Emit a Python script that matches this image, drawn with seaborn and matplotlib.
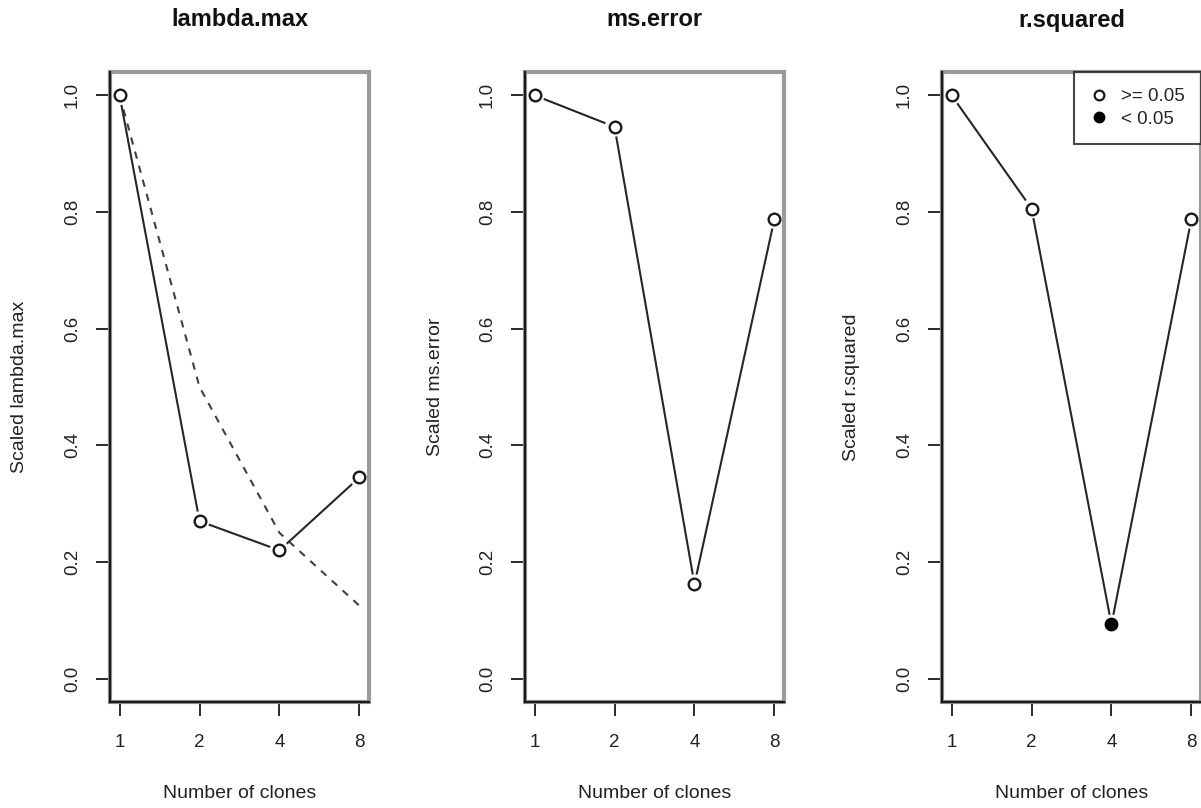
import numpy as np
import pandas as pd
import matplotlib
matplotlib.use("Agg")
import matplotlib.pyplot as plt
from matplotlib.patches import Rectangle
from matplotlib.lines import Line2D
import seaborn as sns

# Number of clones (x axis) and scaled diagnostics per panel
clones = [1, 2, 4, 8]
lambda_max = [1.0, 0.27, 0.22, 0.345]
ms_error = [1.0, 0.946, 0.162, 0.788]
r_squared = [1.0, 0.806, 0.093, 0.788]
# expected decline 1/k for lambda.max
lambda_ref = [1.0, 0.5, 0.25, 0.125]
# significance of each point (p < 0.05)
sig_lambda = [False, False, False, False]
sig_mse = [False, False, False, False]
sig_r2 = [False, False, True, False]

panel_titles = ["lambda.max", "ms.error", "r.squared"]
y_labels = ["Scaled lambda.max", "Scaled ms.error", "Scaled r.squared"]
x_label = "Number of clones"
x_ticklabels = ["1", "2", "4", "8"]
y_ticks = [0.0, 0.2, 0.4, 0.6, 0.8, 1.0]
legend_labels = [">= 0.05", "< 0.05"]

sns.set_theme(style="white")
plt.rcParams["font.family"] = ["Liberation Sans", "DejaVu Sans"]

W, H = 1201, 808
fig = plt.figure(figsize=(W / 100, H / 100), dpi=100)

lefts = [110, 525, 942]
pw, ph = 259, 630
bottom_px = 702

LINE = "#262626"
FRAME = "#9a9a9a"
TXT = "#222222"
FS_TICK, FS_LAB, FS_TITLE = 13.5, 14, 17

series = [lambda_max, ms_error, r_squared]
sigs = [sig_lambda, sig_mse, sig_r2]

for i in range(3):
    ax = fig.add_axes([lefts[i] / W, 1 - bottom_px / H, pw / W, ph / H])
    df = pd.DataFrame({"clones": clones, "value": series[i], "sig": sigs[i]})

    # connecting line
    sns.lineplot(data=df, x="clones", y="value", ax=ax, color=LINE,
                 lw=1.5, zorder=2, legend=False)
    if i == 0:
        ref = pd.DataFrame({"clones": clones, "value": lambda_ref})
        sns.lineplot(data=ref, x="clones", y="value", ax=ax, color="#404040",
                     lw=1.5, ls=(0, (3.5, 3.5)), zorder=1.5, legend=False)
    # gaps around points
    ax.scatter(df["clones"], df["value"], s=200, color="white",
               edgecolor="none", zorder=3)
    ns = df[~df["sig"]]
    sg = df[df["sig"]]
    sns.scatterplot(data=ns, x="clones", y="value", ax=ax, marker="o", s=70,
                    facecolor="white", edgecolor="#1a1a1a", linewidth=1.7,
                    zorder=4, legend=False)
    if len(sg):
        sns.scatterplot(data=sg, x="clones", y="value", ax=ax, marker="o",
                        s=80, color="black", edgecolor="black", linewidth=1,
                        zorder=4, legend=False)

    ax.set_xscale("log", base=2)
    ax.set_xlim(2 ** -0.12, 2 ** 3.12)
    ax.set_ylim(-0.04, 1.04)
    ax.set_xticks(clones)
    ax.set_xticklabels(x_ticklabels)
    ax.xaxis.set_minor_locator(matplotlib.ticker.NullLocator())
    ax.set_yticks(y_ticks)
    ax.set_yticklabels([f"{v:.1f}" for v in y_ticks], rotation=90, va="center")

    ax.tick_params(axis="both", which="major", direction="out", length=10,
                   width=1.3, color="#1a1a1a", labelsize=FS_TICK,
                   labelcolor=TXT)
    ax.tick_params(axis="x", pad=13, bottom=True)
    ax.tick_params(axis="y", pad=11, left=True)

    # gray frame box
    for s in ax.spines.values():
        s.set_visible(False)
    ax.add_patch(Rectangle((0, 0), 1, 1, transform=ax.transAxes, fill=False,
                           edgecolor=FRAME, lw=3, zorder=5, clip_on=False))
    # black axis lines on the left and bottom edges
    for side in ("left", "bottom"):
        sp = ax.spines[side]
        sp.set_visible(True)
        sp.set_color("#1a1a1a")
        sp.set_linewidth(1.6)
        sp.set_zorder(6)

    ax.set_xlabel(x_label, fontsize=FS_LAB, color=TXT)
    ax.set_ylabel(y_labels[i], fontsize=FS_LAB, color=TXT)
    ax.xaxis.label.set_va("center")
    ax.yaxis.label.set_va("center")
    ax.xaxis.set_label_coords(0.5, (bottom_px - 793) / ph)
    ax.yaxis.set_label_coords((20 - lefts[0]) / pw, 0.5)
    ax.set_title(panel_titles[i], fontsize=FS_TITLE, fontweight="bold",
                 y=1 + 52 / ph, va="center", pad=0, color="#111111")
    ax.grid(False)

    if i == 2:
        handles = [
            Line2D([], [], marker="o", ls="none", markersize=7,
                   markerfacecolor="white", markeredgecolor="#1a1a1a",
                   markeredgewidth=1.6),
            Line2D([], [], marker="o", ls="none", markersize=7.5,
                   markerfacecolor="black", markeredgecolor="black"),
        ]
        leg = ax.legend(handles, legend_labels, loc="upper right",
                        bbox_to_anchor=(1.0, 1.0), borderaxespad=0,
                        frameon=True, fancybox=False, fontsize=FS_TICK,
                        handletextpad=0.7, borderpad=0.85, labelspacing=0.3,
                        handlelength=1.0)
        leg.get_frame().set_edgecolor("#1a1a1a")
        leg.get_frame().set_linewidth(1.5)
        leg.set_zorder(7)

fig.savefig("out.png", dpi=100, facecolor="white")
